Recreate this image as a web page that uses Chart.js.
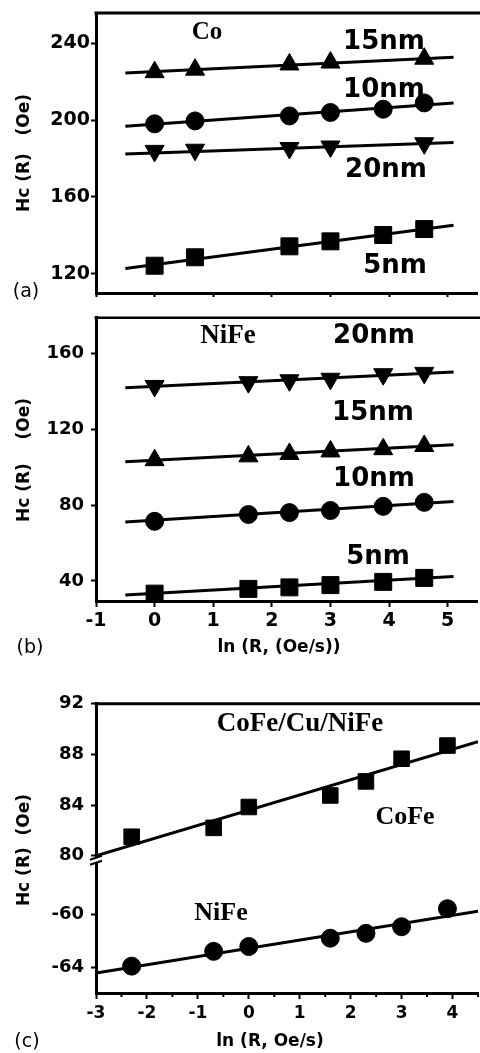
<!DOCTYPE html>
<html>
<head>
<meta charset="utf-8">
<script src="https://cdn.jsdelivr.net/npm/chart.js@4/dist/chart.umd.min.js"></script>
<style>
  html, body { margin: 0; padding: 0; background: #fff; overflow: hidden; width: 480px; height: 1053px; }
  .panel { position: absolute; left: 0; }
</style>
</head>
<body>
<div class="panel" style="top:0"><canvas id="chartA" width="490" height="306"></canvas></div>
<div class="panel" style="top:300px"><canvas id="chartB" width="490" height="362"></canvas></div>
<div class="panel" style="top:686px"><canvas id="chartC" width="490" height="367"></canvas></div>
<script>
// ---- (a) Co films, Hc vs ln(R) ----
const coX6 = [0, 0.69, 2.3, 3.0, 3.9, 4.6];
const coX5 = [0, 0.69, 2.3, 3.0, 4.6];
const co15 = [225, 226.3, 229, 230, 232];
const co10 = [198.1, 199.6, 202.2, 204, 205.7, 209];
const co20 = [184, 184.6, 185.5, 186.3, 188];
const co5 = [124.2, 128.6, 134.3, 136.9, 140.2, 143.3];
const fitXAB = [-0.5, 5.1];
const co15Fit = [224.6, 232.7];
const co10Fit = [196.8, 208.9];
const co20Fit = [182.4, 188.4];
const co5Fit = [122.8, 145.3];
const yTicksA = [120, 160, 200, 240];

// ---- (b) NiFe films ----
const niX = [0, 1.6, 2.3, 3.0, 3.9, 4.6];
const ni20 = [143, 145, 146, 146.8, 149.2, 149.9];
const ni15 = [103.8, 105.8, 107.1, 108.4, 109.6, 111.3];
const ni10 = [71.5, 75.1, 76.1, 77.2, 79.4, 81.5];
const ni5 = [33.3, 35.8, 36.6, 37.8, 39.5, 41.6];
const ni20Fit = [142.1, 150.4];
const ni15Fit = [103, 111.9];
const ni10Fit = [71.1, 82];
const ni5Fit = [32.6, 42.3];
const yTicksB = [40, 80, 120, 160];
const xTicksAB = [-1, 0, 1, 2, 3, 4, 5];

// ---- (c) CoFe/Cu/NiFe spin valve ----
const svX = [-2.3, -0.69, 0, 1.6, 2.3, 3.0, 3.9];
const cofe = [81.5, 82.2, 83.85, 84.76, 85.87, 87.66, 88.7];
const nife = [-63.93, -62.81, -62.44, -61.81, -61.44, -60.94, -59.57];
const fitXC = [-3, 4.5];
const cofeFit = [80.0, 89.0];
const nifeFit = [-64.45, -59.77];
const yTicksUp = [80, 84, 88, 92];
const yTicksLow = [-64, -60];
const xTicksC = [-3, -2, -1, 0, 1, 2, 3, 4];

Chart.defaults.font.family = 'DejaVu Sans';
Chart.defaults.color = '#000';
Chart.defaults.animation = false;

const BOLD = '"DejaVu Sans", sans-serif';
const SERIF = '"Liberation Serif", "DejaVu Serif", serif';

function pts(xs, ys) {
  return xs.map((x, i) => ({ x, y: ys[i] }));
}

function markers(xs, ys, style, radius, rotation, axis) {
  return {
    data: pts(xs, ys),
    showLine: false,
    pointStyle: style,
    pointRadius: radius,
    pointHoverRadius: radius,
    pointRotation: rotation || 0,
    backgroundColor: '#000',
    borderColor: '#000',
    borderWidth: 1,
    yAxisID: axis || 'y'
  };
}

function fitLine(xs, ys, axis) {
  return {
    data: pts(xs, ys),
    showLine: true,
    pointRadius: 0,
    borderColor: '#000',
    borderWidth: 3,
    yAxisID: axis || 'y'
  };
}

function fixedTicks(list) {
  return scale => { scale.ticks = list.map(v => ({ value: v })); };
}

// free text: labels inside the plots, axis titles, panel letters
const notesPlugin = {
  id: 'notes',
  afterDraw(chart, args, opts) {
    const ctx = chart.ctx;
    (opts.items || []).forEach(n => {
      ctx.save();
      ctx.font = n.font;
      ctx.fillStyle = '#000';
      ctx.textAlign = 'center';
      ctx.textBaseline = 'middle';
      ctx.translate(n.x, n.y);
      if (n.rotate) ctx.rotate(n.rotate);
      ctx.fillText(n.text, 0, 0);
      ctx.restore();
    });
  }
};

// top edge of each frame (runs off the right side)
const framePlugin = {
  id: 'frame',
  afterDraw(chart, args, opts) {
    if (!opts.top) return;
    const { ctx, chartArea } = chart;
    ctx.save();
    ctx.strokeStyle = '#000';
    ctx.lineWidth = opts.top;
    ctx.beginPath();
    ctx.moveTo(chartArea.left - 1.5, chartArea.top);
    ctx.lineTo(chart.width, chartArea.top);
    ctx.stroke();
    ctx.restore();
  }
};

// minor x ticks and the // mark on the broken y axis
const breakPlugin = {
  id: 'axisBreak',
  afterDraw(chart) {
    const { ctx, chartArea } = chart;
    const xs = chart.scales.x;
    const up = chart.scales.yUp;
    ctx.save();
    ctx.strokeStyle = '#000';
    ctx.lineWidth = 2;
    xTicksC.forEach(v => {
      const m = v + 0.5;
      if (m > xs.max) return;
      const px = xs.getPixelForValue(m);
      ctx.beginPath();
      ctx.moveTo(px, chartArea.bottom);
      ctx.lineTo(px, chartArea.bottom + 4);
      ctx.stroke();
    });
    const x0 = chartArea.left;
    const g = up.bottom;
    ctx.fillStyle = '#fff';
    ctx.beginPath();
    ctx.moveTo(x0 - 6, g + 1);
    ctx.lineTo(x0 + 6, g - 3);
    ctx.lineTo(x0 + 6, g + 2);
    ctx.lineTo(x0 - 6, g + 6);
    ctx.closePath();
    ctx.fill();
    ctx.beginPath();
    ctx.moveTo(x0 - 6, g + 1);
    ctx.lineTo(x0 + 6, g - 3);
    ctx.moveTo(x0 - 6, g + 6);
    ctx.lineTo(x0 + 6, g + 2);
    ctx.stroke();
    ctx.restore();
  }
};

function yAxis(min, max, ticks, size, pad, extra) {
  return Object.assign({
    type: 'linear',
    position: 'left',
    min, max,
    afterFit: s => { s.width = 96; },
    afterBuildTicks: fixedTicks(ticks),
    ticks: { font: { family: BOLD, weight: 'bold', size }, padding: pad, color: '#000' },
    grid: { drawOnChartArea: false, tickLength: 5, tickWidth: 2, tickColor: '#000' },
    border: { color: '#000', width: 3 }
  }, extra || {});
}

function xAxis(min, max, ticks, size, pad, height, showLabels) {
  return {
    type: 'linear',
    min, max,
    afterFit: s => { s.height = height; },
    afterBuildTicks: fixedTicks(ticks),
    ticks: { display: showLabels, font: { family: BOLD, weight: 'bold', size }, padding: pad, color: '#000', maxRotation: 0 },
    grid: { drawOnChartArea: false, tickLength: showLabels ? 6 : 4, tickWidth: 2, tickColor: '#000' },
    border: { color: '#000', width: 3 }
  };
}

const yTitle = 'Hc (R)   (Oe)';

new Chart(document.getElementById('chartA'), {
  type: 'scatter',
  data: {
    datasets: [
      fitLine(fitXAB, co15Fit), markers(coX5, co15, 'triangle', 11),
      fitLine(fitXAB, co10Fit), markers(coX6, co10, 'circle', 9),
      fitLine(fitXAB, co20Fit), markers(coX5, co20, 'triangle', 11, 180),
      fitLine(fitXAB, co5Fit), markers(coX6, co5, 'rect', 12)
    ]
  },
  options: {
    responsive: false,
    layout: { padding: { top: 10, right: 3, left: 0, bottom: 0 } },
    scales: {
      x: xAxis(-1, 5.5, xTicksAB, 19, 3, 8, false),
      y: yAxis(110, 255.8, yTicksA, 19, 1)
    },
    plugins: {
      legend: { display: false },
      tooltip: { enabled: false },
      frame: { top: 3 },
      notes: {
        items: [
          { text: 'Co', x: 207, y: 33, font: `bold 25px ${SERIF}` },
          { text: '15nm', x: 384, y: 42, font: `bold 26px ${BOLD}` },
          { text: '10nm', x: 384, y: 90, font: `bold 26px ${BOLD}` },
          { text: '20nm', x: 386, y: 170, font: `bold 26px ${BOLD}` },
          { text: '5nm', x: 395, y: 266, font: `bold 26px ${BOLD}` },
          { text: '(a)', x: 26, y: 292, font: `19px ${BOLD}` },
          { text: yTitle, x: 25, y: 153, rotate: -Math.PI / 2, font: `bold 17px ${BOLD}` }
        ]
      }
    }
  },
  plugins: [notesPlugin, framePlugin]
});

new Chart(document.getElementById('chartB'), {
  type: 'scatter',
  data: {
    datasets: [
      fitLine(fitXAB, ni20Fit), markers(niX, ni20, 'triangle', 11, 180),
      fitLine(fitXAB, ni15Fit), markers(niX, ni15, 'triangle', 11),
      fitLine(fitXAB, ni10Fit), markers(niX, ni10, 'circle', 9),
      fitLine(fitXAB, ni5Fit), markers(niX, ni5, 'rect', 12)
    ]
  },
  options: {
    responsive: false,
    layout: { padding: { top: 4, right: 3, left: 0, bottom: 0 } },
    scales: {
      x: xAxis(-1, 5.5, xTicksAB, 19, 3, 61, true),
      y: yAxis(29.4, 179, yTicksB, 18, 7)
    },
    plugins: {
      legend: { display: false },
      tooltip: { enabled: false },
      frame: { top: 2.5 },
      notes: {
        items: [
          { text: 'NiFe', x: 228, y: 36, font: `bold 27px ${SERIF}` },
          { text: '20nm', x: 374, y: 36, font: `bold 26px ${BOLD}` },
          { text: '15nm', x: 373, y: 113, font: `bold 26px ${BOLD}` },
          { text: '10nm', x: 374, y: 179, font: `bold 26px ${BOLD}` },
          { text: '5nm', x: 378, y: 257, font: `bold 26px ${BOLD}` },
          { text: 'ln (R, (Oe/s))', x: 279, y: 348, font: `bold 17px ${BOLD}` },
          { text: '(b)', x: 30, y: 348, font: `19px ${BOLD}` },
          { text: 'Hc (R)    (Oe)', x: 25, y: 160, rotate: -Math.PI / 2, font: `bold 17px ${BOLD}` }
        ]
      }
    }
  },
  plugins: [notesPlugin, framePlugin]
});

// the lower (NiFe) scale is listed first so that the CoFe scale stacks on top
new Chart(document.getElementById('chartC'), {
  type: 'scatter',
  data: {
    datasets: [
      fitLine(fitXC, cofeFit, 'yUp'), markers(svX, cofe, 'rect', 11, 0, 'yUp'),
      fitLine(fitXC, nifeFit, 'yLow'), markers(svX, nife, 'circle', 9, 0, 'yLow')
    ]
  },
  options: {
    responsive: false,
    layout: { padding: { top: 14, right: 1, left: 0, bottom: 0 } },
    scales: {
      x: xAxis(-3, 4.5, xTicksC, 17, 4, 60, true),
      yLow: yAxis(-65.97, -55.78, yTicksLow, 18, 7, { stack: 'hc', stackWeight: 136 }),
      yUp: yAxis(79.76, 92, yTicksUp, 18, 7, { stack: 'hc', stackWeight: 157 })
    },
    plugins: {
      legend: { display: false },
      tooltip: { enabled: false },
      frame: { top: 3 },
      notes: {
        items: [
          { text: 'CoFe/Cu/NiFe', x: 300, y: 38, font: `bold 27px ${SERIF}` },
          { text: 'CoFe', x: 405, y: 131, font: `bold 26px ${SERIF}` },
          { text: 'NiFe', x: 221, y: 227, font: `bold 26px ${SERIF}` },
          { text: 'ln (R, Oe/s)', x: 270, y: 356, font: `bold 17px ${BOLD}` },
          { text: '(c)', x: 27, y: 356, font: `19px ${BOLD}` },
          { text: 'Hc (R)  (Oe)', x: 25, y: 164, rotate: -Math.PI / 2, font: `bold 17px ${BOLD}` }
        ]
      }
    }
  },
  plugins: [notesPlugin, framePlugin, breakPlugin]
});
</script>
</body>
</html>
